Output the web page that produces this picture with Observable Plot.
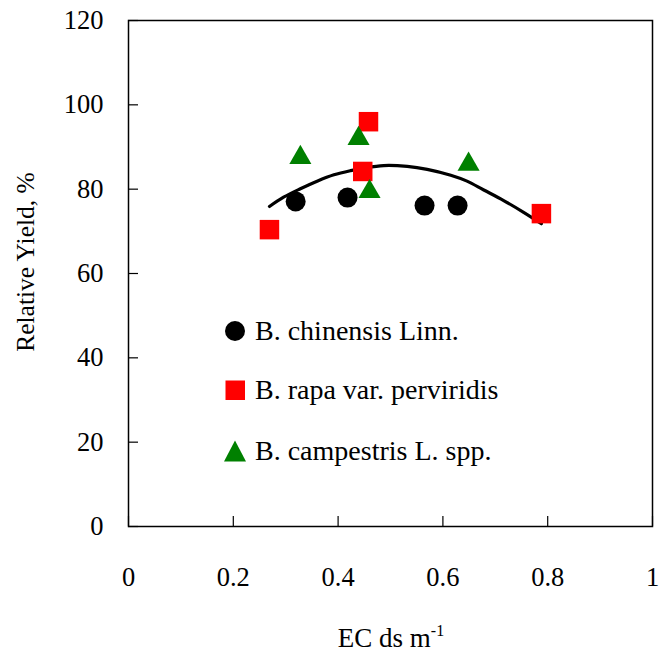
<!DOCTYPE html>
<html>
<head>
<meta charset="utf-8">
<script src="https://cdn.jsdelivr.net/npm/d3@7"></script>
<script src="https://cdn.jsdelivr.net/npm/@observablehq/plot@0.6"></script>
<style>
  html, body { margin: 0; padding: 0; background: #fff; }
  #wrap { position: relative; width: 661px; height: 657px; font-family: "Liberation Serif", "DejaVu Serif", serif; }
  .leg { position: absolute; left: 224px; font-size: 28px; line-height: 1; color: #000; display: flex; align-items: center; white-space: nowrap; }
  .leg svg { margin-right: 9px; }
</style>
</head>
<body>
<div id="wrap"></div>
<script>
// Series: B. chinensis Linn. (black circles)
const chinensisEC = [0.319, 0.418, 0.565, 0.628];
const chinensisYield = [77.1, 78.0, 76.1, 76.1];
// Series: B. rapa var. perviridis (red squares)
const rapaEC = [0.269, 0.458, 0.447, 0.788];
const rapaYield = [70.4, 96.0, 84.2, 74.2];
// Series: B. campestris L. spp. (green triangles)
const campEC = [0.328, 0.439, 0.460, 0.649];
const campYield = [87.5, 92.0, 79.4, 85.9];
// Fitted trend curve
const curveEC = [0.269, 0.296, 0.328, 0.360, 0.392, 0.424, 0.449, 0.487, 0.532, 0.570, 0.615, 0.646, 0.678, 0.716, 0.754, 0.788];
const curveYield = [75.9, 78.1, 80.1, 81.9, 83.4, 84.4, 85.0, 85.6, 85.4, 84.7, 83.3, 81.9, 79.8, 77.3, 74.5, 71.8];
// Axis ticks
const xTicks = [0, 0.2, 0.4, 0.6, 0.8, 1];
const yTicks = [0, 20, 40, 60, 80, 100, 120];
const seriesNames = ["B. chinensis Linn.", "B. rapa var. perviridis", "B. campestris L. spp."];

const zip = (xs, ys) => xs.map((x, i) => ({x, y: ys[i]}));
const chinensis = zip(chinensisEC, chinensisYield);
const rapa = zip(rapaEC, rapaYield);
const camp = zip(campEC, campYield);
const curve = zip(curveEC, curveYield);

const chart = Plot.plot({
  width: 661,
  height: 657,
  marginLeft: 128,
  marginRight: 9,
  marginTop: 20,
  marginBottom: 131,
  style: {fontFamily: "Liberation Serif, DejaVu Serif, serif", fontSize: "26px", color: "#000", background: "#fff"},
  x: {domain: [0, 1]},
  y: {domain: [0, 120]},
  marks: [
    Plot.axisX({ticks: xTicks, tickSize: -10, tickPadding: 51, tickFormat: d => String(d), label: null, strokeWidth: 1.2}),
    Plot.axisY({ticks: yTicks, tickSize: -10, tickPadding: 35, tickFormat: d => String(d), label: null, strokeWidth: 1.2}),
    Plot.frame({stroke: "#000", strokeWidth: 1.5}),
    Plot.line(curve, {x: "x", y: "y", stroke: "#000", strokeWidth: 3.2, curve: "catmull-rom"}),
    Plot.dot(chinensis, {x: "x", y: "y", r: 10, fill: "#000", stroke: "none", symbol: "circle"}),
    Plot.dot(rapa, {x: "x", y: "y", r: 11, fill: "#ff0000", stroke: "none", symbol: "square"}),
    Plot.dot(camp, {x: "x", y: "y", r: 8.2, fill: "#008000", stroke: "none", symbol: "triangle"})
  ]
});

const wrap = document.getElementById("wrap");
wrap.appendChild(chart);

const svg = d3.select(chart);
// Tick label font
svg.selectAll('g[aria-label="x-axis tick label"], g[aria-label="y-axis tick label"]')
  .attr("font-size", 26.5);

// Axis titles
svg.append("text")
  .attr("transform", "translate(34,262) rotate(-90)")
  .attr("text-anchor", "middle")
  .attr("font-size", 25.5)
  .attr("fill", "#000")
  .text("Relative Yield, %");
const xl = svg.append("text")
  .attr("x", 391).attr("y", 647)
  .attr("text-anchor", "middle")
  .attr("font-size", 27)
  .attr("fill", "#000");
xl.append("tspan").text("EC ds m");
xl.append("tspan").attr("font-size", 16).attr("dy", -11).text("-1");

// Legend
const legendSymbols = [
  '<svg width="22" height="22"><circle cx="11" cy="11" r="10" fill="#000"/></svg>',
  '<svg width="22" height="22"><rect x="1.5" y="1.5" width="19.5" height="19.5" fill="#ff0000"/></svg>',
  '<svg width="22" height="22"><path d="M11,0.5L22,21.5L0,21.5Z" fill="#008000"/></svg>'
];
const legendTops = [317, 376, 437];
seriesNames.forEach((name, i) => {
  const d = document.createElement("div");
  d.className = "leg";
  d.style.top = legendTops[i] + "px";
  d.innerHTML = legendSymbols[i] + "<span>" + name + "</span>";
  wrap.appendChild(d);
});
</script>
</body>
</html>
